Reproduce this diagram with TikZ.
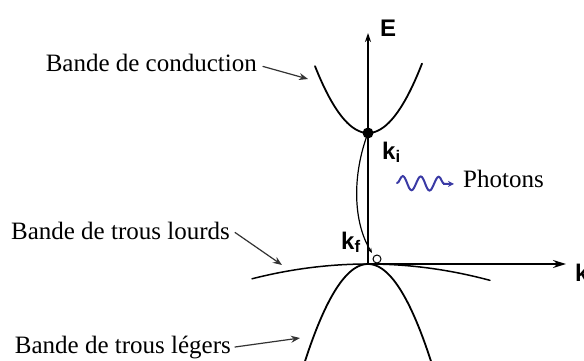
\documentclass[tikz,border=0pt]{standalone}
\usepackage{fontspec}
\setmainfont{Liberation Serif}
\newfontfamily\axisfont{Liberation Sans}
\usetikzlibrary{arrows.meta,decorations.pathmorphing}
\definecolor{photonblue}{RGB}{58,58,165}

\begin{document}
\begin{tikzpicture}[x=1pt,y=-1pt,line cap=round,
  band/.style={line width=1.8pt},
  axis/.style={line width=1.8pt},
  note/.style={font=\fontsize{25}{30}\selectfont,inner sep=0pt},
  pointer/.style={-{Stealth[length=9pt,width=7pt]},line width=1.2pt,black!80},
  klab/.style={font=\axisfont\bfseries\fontsize{24}{28}\selectfont,inner sep=0pt},
  photon/.style={photonblue,line width=2pt,decorate,
    decoration={snake,amplitude=7pt,segment length=18pt,post length=4pt}}]
\useasboundingbox (0,0) rectangle (584,361);
% axes
\coordinate (O) at (368,264);
\coordinate (etop) at (368,33);
\coordinate (kend) at (566,264);
\draw[axis,-{Stealth[length=9pt,width=6pt]}] (O) -- (etop);
\draw[axis,-{Stealth[length=13pt,width=8pt]}] (O) -- (kend);
\node[klab,anchor=base west] (elabel) at (380,37) {E};
\node[klab,anchor=base west] (klabel) at (575,281) {k};
% bands
\draw[band] plot[domain=-53:54,samples=60] ({368+\x},{133-0.0238*\x*\x});
\draw[band,line width=1.5pt] plot[domain=-116:122,samples=60] ({368+\x},{264+0.0011*\x*\x});
\draw[band] plot[domain=-66:66,samples=60] ({368+\x},{264+0.0245*\x*\x});
% transition
\coordinate (kiP) at (368,133);
\coordinate (kfP) at (372,253);
\draw[line width=1.2pt,-{Stealth[length=5pt,width=4pt]}] (kiP) .. controls (352,175) and (353,222) .. (kfP);
\fill (kiP) circle (5.5pt);
\draw[line width=1pt,fill=white] (377,259) circle (4pt);
\node[klab,anchor=base west] (ki) at (382,159) {k\textsubscript{i}};
\node[klab,anchor=base west] (kf) at (341,249) {k\textsubscript{f}};
% photons
\coordinate (phA) at (397,183);
\coordinate (phB) at (454,184);
\draw[photon,-{Stealth[length=6pt,width=6pt]}] (phA) -- (phB);
\node[note,anchor=base west] (photons) at (463,187) {Photons};
% labels
\node[note,anchor=base east] (cond) at (257,72) {Bande de conduction};
\node[note,anchor=base east] (lourds) at (230,239) {Bande de trous lourds};
\node[note,anchor=base east] (legers) at (231,353) {Bande de trous légers};
\coordinate (condtip) at (308,79);
\coordinate (lourdstip) at (282,265);
\coordinate (legerstip) at (300,338);
\draw[pointer] ([shift={(6,3)}]cond.east) -- (condtip);
\draw[pointer] ([shift={(5,2)}]lourds.east) -- (lourdstip);
\draw[pointer] ([xshift=4pt]legers.east) -- (legerstip);
\end{tikzpicture}
\end{document}
